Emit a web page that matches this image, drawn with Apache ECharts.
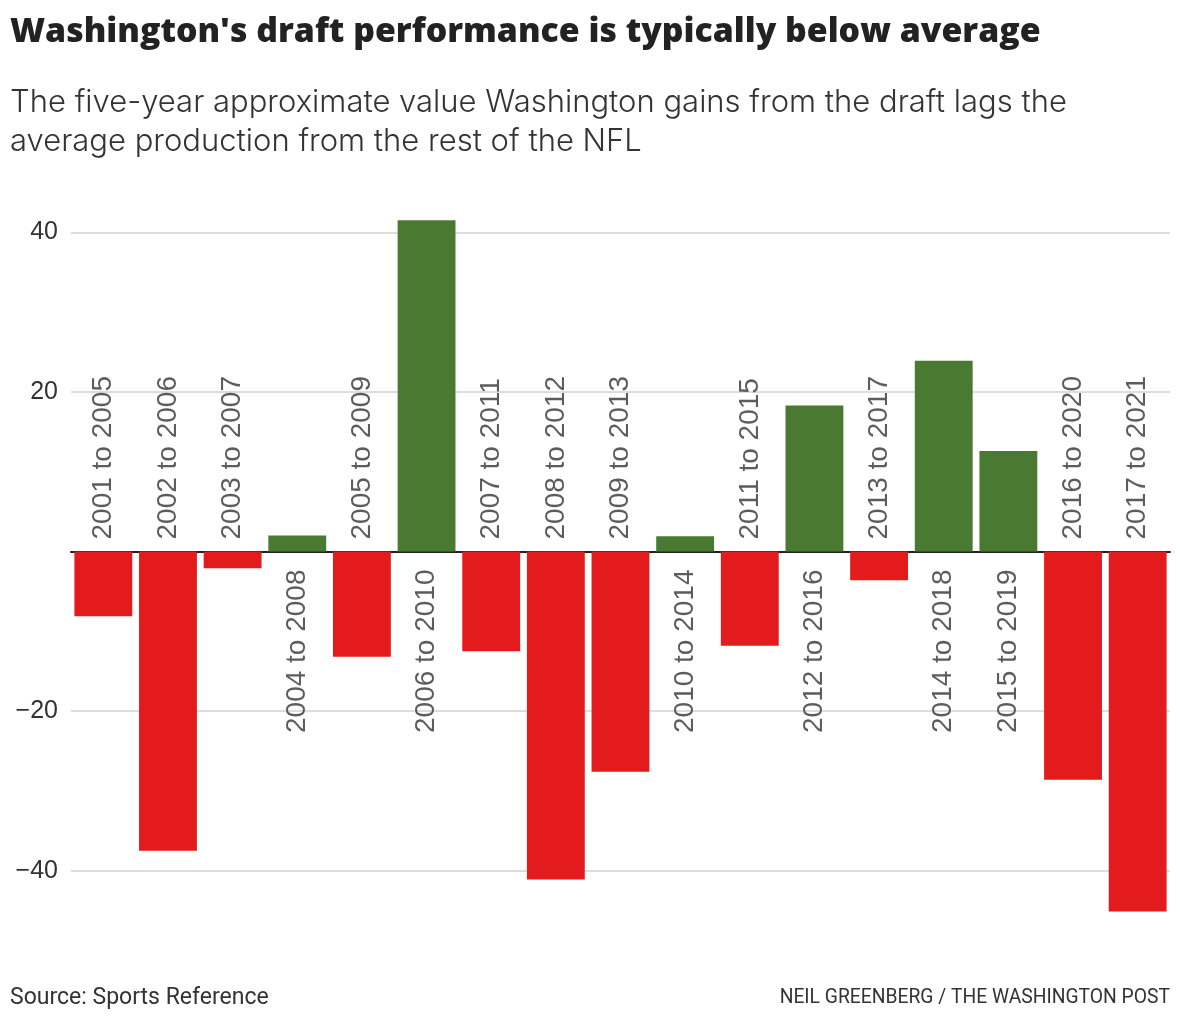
<!DOCTYPE html>
<html>
<head>
<meta charset="utf-8">
<script src="https://cdn.jsdelivr.net/npm/echarts@6/dist/echarts.min.js"></script>
<style>
html,body{margin:0;padding:0;background:#fff;}
#chart{width:1180px;height:1020px;}
</style>
</head>
<body>
<div id="chart"></div>
<script>
const categories = ["2001 to 2005","2002 to 2006","2003 to 2007","2004 to 2008","2005 to 2009","2006 to 2010","2007 to 2011","2008 to 2012","2009 to 2013","2010 to 2014","2011 to 2015","2012 to 2016","2013 to 2017","2014 to 2018","2015 to 2019","2016 to 2020","2017 to 2021"];
const values = [-8.1, -37.5, -2.1, 2.0, -13.2, 41.5, -12.5, -41.1, -27.6, 1.9, -11.8, 18.3, -3.6, 23.9, 12.6, -28.6, -45.1];
const yTicks = [-40, -20, 0, 20, 40];

const RED = '#e31b1d', GREEN = '#4a7a31', TEXT = '#333333';
const chart = echarts.init(document.getElementById('chart'), null, {renderer: 'canvas'});

const labelData = values.map(function (v, i) {
  const neg = v < 0;
  return {
    value: 0,
    label: {
      show: true,
      formatter: categories[i],
      rotate: 90,
      align: neg ? 'left' : 'right',
      verticalAlign: 'middle',
      position: 'inside',
      offset: neg ? [12, 0] : [-18, 0]
    }
  };
});

chart.setOption({
  animation: false,
  title: [
    {text: "Washington's draft performance is typically below average", left: 5, top: 10,
     textStyle: {fontFamily: 'Open Sans', fontWeight: 800, fontSize: 33.8, color: '#222'}},
    {text: "The five-year approximate value Washington gains from the draft lags the\naverage production from the rest of the NFL", left: 5, top: 78,
     textStyle: {fontFamily: 'Inter', fontWeight: 300, fontSize: 31, lineHeight: 39, color: '#333'}},
    {text: "Source: Sports Reference", left: 5, top: 982,
     textStyle: {fontFamily: 'Roboto', fontWeight: 400, fontSize: 23, color: '#333'}},
    {text: "NEIL GREENBERG / THE WASHINGTON POST", right: 5, top: 984,
     textStyle: {fontFamily: 'Roboto', fontWeight: 400, fontSize: 19.3, color: '#333'}}
  ],
  grid: {left: 71, right: 10, top: 232.3, bottom: 149.3, containLabel: false},
  xAxis: {
    type: 'category', data: categories,
    axisLine: {show: true, onZero: true, lineStyle: {color: '#222', width: 2}},
    axisTick: {show: false}, axisLabel: {show: false}, splitLine: {show: false}
  },
  yAxis: {
    type: 'value', min: yTicks[0], max: yTicks[yTicks.length - 1], interval: 20,
    axisLine: {show: false}, axisTick: {show: false},
    axisLabel: {
      margin: 13, fontFamily: 'Liberation Sans', fontSize: 25, color: TEXT,
      formatter: function (v) { return v === 0 ? '' : String(v).replace('-', '\u2212'); }
    },
    splitLine: {lineStyle: {color: '#dddddd', width: 2}}
  },
  series: [
    {
      type: 'bar', data: values, clip: false, barCategoryGap: '10.5%',
      itemStyle: {color: function (p) { return p.value < 0 ? RED : GREEN; }},
      z: 2
    },
    {
      type: 'scatter', data: labelData, symbolSize: 0, silent: true, z: 3,
      label: {fontFamily: 'Liberation Sans', fontSize: 28, color: TEXT}
    }
  ]
});
</script>
</body>
</html>
